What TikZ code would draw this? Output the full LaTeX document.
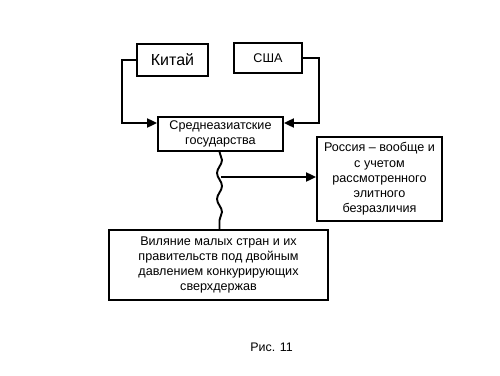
\documentclass[tikz,border=0pt]{standalone}
\usepackage{fontspec}
\setmainfont{Liberation Sans}
\usetikzlibrary{arrows.meta,decorations.pathmorphing}
\begin{document}
\begin{tikzpicture}[x=1pt,y=-1pt,
  box/.style={draw,line width=1.8pt,inner sep=0pt,align=center,font=\fontsize{12.6}{15.2}\selectfont},
  conn/.style={line width=1.9pt,-{Triangle[length=10pt,width=9pt]}},
  wave/.style={line width=1.9pt,decorate,decoration={snake,segment length=26pt,amplitude=2.5pt}}]
\useasboundingbox[fill=white] (0,0) rectangle (500,375);
\node[box,minimum width=71pt,minimum height=32pt,font=\fontsize{16}{18}\selectfont] (kitay) at (172.5,60) {Китай};
\node[box,minimum width=68pt,minimum height=30pt] (usa) at (268,58) {США};
\node[box,minimum width=125pt,minimum height=34pt] (sred) at (220.5,134) {Среднеазиатские\\государства};
\node[box,minimum width=125pt,minimum height=84pt] (ross) at (379.5,179) {Россия – вообще и\\с учетом\\рассмотренного\\элитного\\безразличия};
\node[box,minimum width=219pt,minimum height=70pt] (vil) at (218.5,265) {Виляние малых стран и их\\правительств под двойным\\давлением конкурирующих\\сверхдержав};
\node[font=\fontsize{12.4}{14}\selectfont] (ris) at (271.5,347) {Рис. 11};
\draw[conn] (kitay.west) -- ++(-14.5,0) |- ([yshift=11pt]sred.west);
\draw[conn] (usa.east) -- ++(16,0) |- ([yshift=11pt]sred.east);
\coordinate (wtop) at ([xshift=-1pt]sred.south);
\coordinate (wbot) at (wtop |- vil.north);
\draw[wave] (wtop) -- (wbot);
\coordinate (hstart) at (221,177);
\draw[conn] (hstart) -- (hstart -| ross.west);
\end{tikzpicture}
\end{document}
